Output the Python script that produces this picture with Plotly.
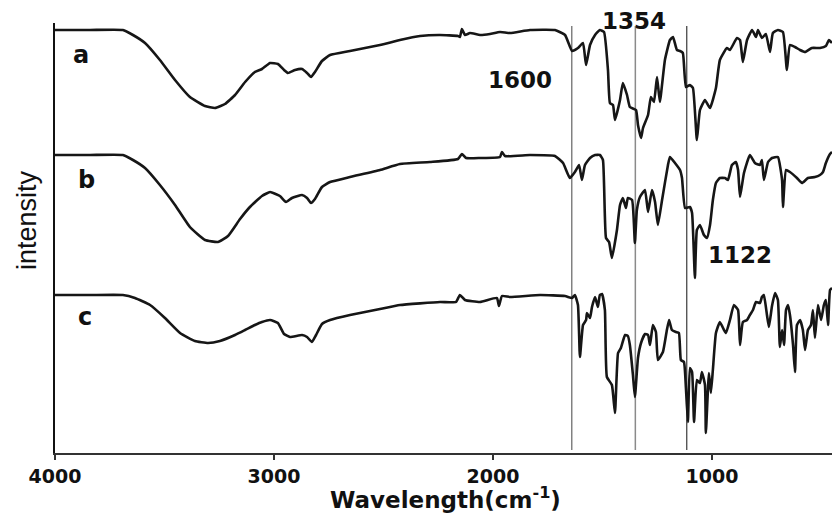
import plotly.graph_objects as go

# ---- data (wavenumber in cm^-1, intensity in arbitrary units) ----
wn_a = [4000, 3840, 3690, 3644, 3589, 3521, 3452, 3384, 3315, 3269, 3224, 3178, 3132, 3087, 3055, 3018,
        2982, 2954, 2936, 2904, 2872, 2849, 2831, 2813, 2781, 2744, 2653, 2516, 2425, 2333, 2242, 2160,
        2151, 2142, 2128, 2105, 2059, 2014, 1968, 1922, 1831, 1717, 1671, 1639, 1612, 1589, 1575, 1557,
        1534, 1512, 1493, 1475, 1466, 1452, 1443, 1420, 1407, 1388, 1375, 1347, 1338, 1324, 1315, 1292,
        1279, 1265, 1251, 1238, 1215, 1192, 1178, 1160, 1146, 1133, 1119, 1101, 1087, 1069, 1055, 1032,
        1009, 982, 964, 932, 918, 886, 872, 859, 840, 817, 799, 790, 772, 754, 735, 722, 699, 676, 658,
        644, 621, 598, 575, 544, 507, 480, 466, 452]
int_a = [423, 423, 423, 418, 410, 393, 373, 356, 347, 345, 349, 358, 371, 381, 384, 390,
         389, 383, 380, 383, 384, 380, 376, 381, 392, 398, 402, 408, 413, 417, 418, 417,
         416, 424, 418, 420, 418, 419, 421, 420, 423, 423, 418, 402, 405, 410, 388, 408,
         418, 423, 421, 383, 350, 348, 333, 353, 370, 358, 346, 343, 328, 315, 325, 338,
         356, 351, 376, 351, 393, 413, 416, 403, 402, 400, 366, 368, 365, 313, 343, 353,
         345, 365, 393, 405, 403, 415, 413, 391, 413, 423, 416, 423, 415, 419, 401, 420, 423, 421, 383,
         408, 406, 403, 401, 405, 405, 407, 413, 410]

wn_b = [4000, 3840, 3690, 3644, 3589, 3521, 3452, 3384, 3315, 3256, 3210, 3155, 3110, 3055, 3018, 2973,
        2945, 2918, 2872, 2849, 2831, 2813, 2781, 2744, 2653, 2516, 2425, 2288, 2160, 2142, 2123, 2059,
        1968, 1959, 1945, 1831, 1717, 1680, 1649, 1626, 1607, 1594, 1580, 1557, 1534, 1512, 1498, 1484,
        1470, 1457, 1434, 1420, 1407, 1393, 1384, 1365, 1352, 1343, 1329, 1306, 1292, 1274, 1260, 1247,
        1228, 1201, 1192, 1169, 1146, 1137, 1123, 1101, 1091, 1078, 1069, 1055, 1037, 1023, 1009, 996,
        982, 964, 941, 927, 909, 891, 881, 872, 854, 827, 804, 781, 772, 763, 744, 726, 699, 680, 676,
        662, 644, 612, 589, 562, 530, 507, 493, 480, 461, 452]
int_b = [298, 298, 298, 293, 285, 268, 248, 226, 213, 211, 217, 234, 246, 257, 261, 257,
         251, 255, 258, 255, 250, 254, 266, 271, 276, 283, 289, 291, 294, 299, 295, 295,
         296, 301, 297, 298, 297, 290, 275, 281, 288, 273, 288, 295, 298, 298, 293, 215,
         211, 195, 223, 248, 255, 245, 255, 253, 210, 243, 256, 263, 241, 263, 251, 228,
         253, 288, 296, 290, 283, 275, 245, 246, 240, 175, 223, 228, 218, 215, 228, 253,
         270, 275, 275, 273, 288, 291, 283, 256, 280, 298, 290, 288, 293, 273, 291, 295, 296, 273, 246,
         283, 281, 275, 270, 275, 276, 278, 281, 290, 299, 301]

wn_c = [4000, 3840, 3690, 3635, 3566, 3498, 3429, 3361, 3301, 3247, 3178, 3132, 3087, 3055, 3018, 2982,
        2954, 2927, 2872, 2849, 2827, 2808, 2781, 2744, 2653, 2516, 2425, 2242, 2169, 2151, 2128, 2059,
        1982, 1973, 1959, 1922, 1785, 1671, 1639, 1626, 1612, 1603, 1589, 1575, 1571, 1557, 1548, 1534,
        1521, 1512, 1502, 1489, 1480, 1457, 1443, 1429, 1416, 1397, 1384, 1375, 1361, 1352, 1338, 1324,
        1306, 1292, 1283, 1270, 1256, 1247, 1224, 1206, 1196, 1183, 1165, 1151, 1142, 1128, 1119, 1110,
        1101, 1091, 1082, 1069, 1055, 1046, 1032, 1028, 1014, 1005, 996, 982, 964, 945, 936, 918, 900,
        881, 872, 859, 840, 827, 813, 799, 781, 772, 763, 749, 740, 726, 712, 699, 690, 680, 671, 662,
        653, 644, 630, 621, 612, 598, 585, 575, 562, 548, 539, 530, 516, 502, 489, 480, 470, 461, 452]
int_c = [158, 158, 158, 155, 148, 135, 120, 112, 110, 112, 118, 123, 128, 131, 133, 130,
         119, 116, 118, 116, 111, 118, 129, 133, 138, 144, 148, 151, 151, 158, 153, 151,
         155, 147, 157, 156, 158, 157, 155, 158, 148, 96, 128, 133, 140, 135, 146, 156,
         146, 158, 159, 143, 76, 68, 40, 100, 105, 118, 117, 108, 78, 56, 95, 110,
         119, 118, 108, 128, 121, 93, 101, 123, 133, 123, 121, 120, 93, 91, 65, 31,
         85, 81, 31, 73, 70, 81, 68, 20, 80, 60, 83, 120, 131, 123, 120, 133, 148,
         143, 108, 131, 133, 138, 143, 151, 150, 156, 158, 138, 126, 147, 160, 153, 106, 123, 108, 143,
         148, 138, 108, 81, 128, 133, 123, 103, 123, 128, 143, 115, 148, 133, 148, 153, 128, 163, 165]

series_names = ["a", "b", "c"]
marker_wn = [1640, 1350, 1115]
marker_labels = ["1600", "1354", "1122"]
tick_vals = [4000, 3000, 2000, 1000]

fig = go.Figure()
for name, xs, ys in [("a", wn_a, int_a), ("b", wn_b, int_b), ("c", wn_c, int_c)]:
    fig.add_trace(go.Scatter(x=xs, y=ys, mode="lines", name=name,
                             line=dict(color="#161616", width=2.6, shape="spline", smoothing=0.4),
                             showlegend=False, hoverinfo="skip"))

line_colors = ["#444444", "#8a8a8a", "#111111"]
line_widths = [1, 1.5, 1]
for w, c, lw in zip(marker_wn, line_colors, line_widths):
    fig.add_shape(type="line", xref="x", yref="y", x0=w, x1=w, y0=3, y1=427,
                  line=dict(color=c, width=lw), layer="below")

bold = dict(family="DejaVu Sans", size=23, color="#111111")
# series labels
label_pos = {"a": (3881, 398), "b": (3858, 273), "c": (3863, 136)}
for n in series_names:
    x, y = label_pos[n]
    fig.add_annotation(x=x, y=y, xref="x", yref="y", text="<b>%s</b>" % n, showarrow=False,
                       xanchor="center", yanchor="middle",
                       font=dict(family="DejaVu Sans", size=24, color="#111111"))
# peak labels (x in data coords, y in paper coords)
peak_pos = [(1877, 0.868), (1356, 1.005), (872, 0.46)]
for (x, y), t in zip(peak_pos, marker_labels):
    fig.add_annotation(x=x, y=y, xref="x", yref="paper", text="<b>%s</b>" % t, showarrow=False,
                       xanchor="center", yanchor="middle", font=bold)

# axis titles
fig.add_annotation(x=-0.036, y=0.542, xref="paper", yref="paper", text="intensity", textangle=-90,
                   showarrow=False, xanchor="center", yanchor="middle",
                   font=dict(family="Liberation Sans, Arial", size=27, color="#111111"))
fig.add_annotation(x=0.502, y=-0.104, xref="paper", yref="paper",
                   text="<b>Wavelength(cm<sup>-1</sup>)</b>", showarrow=False,
                   xanchor="center", yanchor="middle",
                   font=dict(family="DejaVu Sans", size=23, color="#111111"))

fig.update_layout(
    width=832, height=515,
    margin=dict(l=55, r=0, t=23, b=62),
    paper_bgcolor="white", plot_bgcolor="white",
    xaxis=dict(range=[4000, 452], showline=True, linecolor="#333333", linewidth=2,
               ticks="outside", ticklen=5, tickwidth=1.5, tickcolor="#333333",
               tickvals=tick_vals, ticktext=["<b>%d</b>" % v for v in tick_vals],
               tickfont=dict(family="DejaVu Sans", size=19, color="#111111"),
               showgrid=False, zeroline=False),
    yaxis=dict(range=[0, 430], showline=True, linecolor="#111111", linewidth=1.5,
               showticklabels=False, ticks="", showgrid=False, zeroline=False),
)

fig.write_html("out.html", config={"displayModeBar": False},
               post_script="document.body.style.margin='0px';")
